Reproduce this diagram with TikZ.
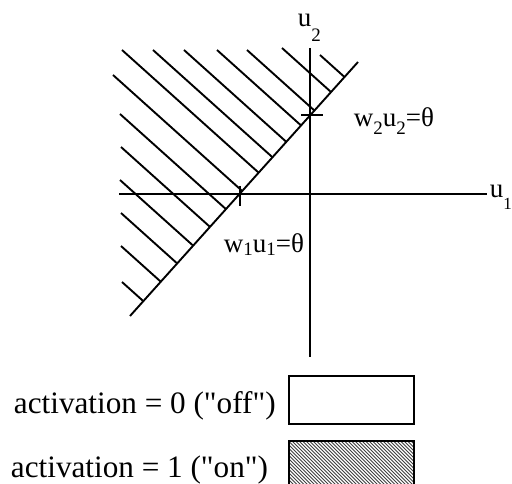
\documentclass[tikz,border=0pt]{standalone}
\usepackage{fontspec}
\setmainfont{Liberation Serif}[Ligatures=TeXOff]
\usetikzlibrary{calc}
\newcommand{\lowsub}[2]{\raisebox{-#1pt}{\fontsize{19}{19}\selectfont #2}}
\begin{document}
\begin{tikzpicture}[x=1pt,y=-1pt,line width=1.9pt,
  lab/.style={anchor=base west,inner sep=0pt,font=\fontsize{27}{30}\selectfont},
  legtext/.style={anchor=base west,inner sep=0pt,font=\fontsize{31.2}{36}\selectfont},
  hatchline/.style={line width=1.9pt},
  legbox/.style={draw,line width=1.9pt,minimum width=125pt,minimum height=48pt,anchor=north west,inner sep=0pt}]
\useasboundingbox (0,0) rectangle (512,484);
% axes
\coordinate (xl) at (119,194);
\coordinate (xr) at (487,194);
\coordinate (yt) at (310,48);
\coordinate (yb) at (310,357);
\draw (xl) -- (xr);
\draw (yt) -- (yb);
% boundary line
\coordinate (dA) at (130,316);
\coordinate (dB) at (358,62);
\draw (dA) -- (dB);
% ticks
\coordinate (t1) at (240,194);
\coordinate (t2) at (310,115);
\draw ($(t1)+(0,-8)$) -- ($(t1)+(0,12)$);
\draw ($(t2)+(-9,0)$) -- ($(t2)+(13,0)$);
% hatch lines
\foreach \px/\py [count=\i] in {122/50,153/50,184/50,217/50,247/50,282/48,320/55,113/75,120/114,121/147,120/180,121/213,121/246,122/282}{
  \coordinate (h\i) at (\px,\py);
  \draw[hatchline] (h\i) -- ($(dA)!(h\i)!(dB)$);
}
% labels
\node[lab] (lu2) at (297,27) {u\lowsub{15}{2}};
\node[lab] (lu1) at (489,198) {u\raisebox{-12pt}{\fontsize{17}{17}\selectfont 1}};
\node[lab] (lw2) at (353,127) {w\lowsub{8}{2}u\lowsub{8}{2}=θ};
\node[lab] (lw1) at (223,252) {w\lowsub{3}{1}u\lowsub{3}{1}=θ};
% legend
\node[legtext] (t0) at (13,413) {activation = 0 ("off")};
\node[legtext] (t1l) at (10,477) {activation = 1 ("on")};
\node[legbox] (off) at (288,375) {};
\node[legbox] (on) at (288,440) {};
\begin{scope}
  \clip (on.south west) rectangle (on.north east);
  \foreach \k in {0,...,60}{
    \draw[line width=0.9pt,black!75] ($(on.north west)+(-60+3.5*\k,0)$) -- ++(60,60);
  }
\end{scope}
\node[legbox] at (288,440) {};
\end{tikzpicture}
\end{document}
